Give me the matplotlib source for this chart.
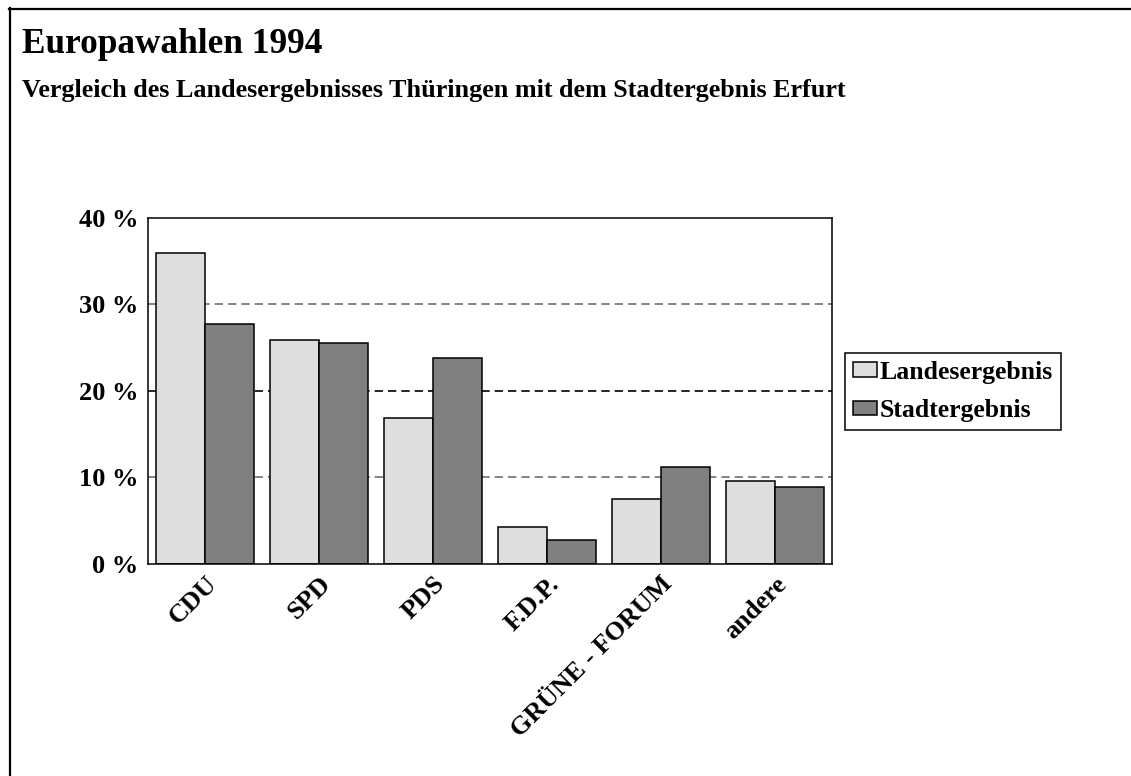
import numpy as np
import matplotlib
matplotlib.use("Agg")
import matplotlib.pyplot as plt
from matplotlib.lines import Line2D

# -----------------------------
# data
# -----------------------------
parteien = ["CDU", "SPD", "PDS", "F.D.P.", "GRÜNE - FORUM", "andere"]
landesergebnis = [35.9, 25.9, 16.9, 4.3, 7.5, 9.6]
stadtergebnis = [27.7, 25.6, 23.8, 2.8, 11.2, 8.9]
y_ticks = [0, 10, 20, 30, 40]
y_labels = ["0 %", "10 %", "20 %", "30 %", "40 %"]

plt.rcParams["font.family"] = ["Liberation Serif", "DejaVu Serif"]
plt.rcParams["font.weight"] = "bold"

W, H = 1131, 776
fig = plt.figure(figsize=(W / 100, H / 100), dpi=100)
fig.patch.set_facecolor("white")

# frame (only top and left)
fig.add_artist(Line2D([9 / W, 1], [1 - 9 / H, 1 - 9 / H], color="black", lw=1.6))
fig.add_artist(Line2D([10 / W, 10 / W], [0, 1 - 8 / H], color="black", lw=1.6))

# titles
fig.text(22 / W, 1 - 53 / H, "Europawahlen 1994", fontsize=25.4, fontweight="bold",
         ha="left", va="baseline")
fig.text(22 / W, 1 - 97 / H, "Vergleich des Landesergebnisses Thüringen mit dem Stadtergebnis Erfurt",
         fontsize=18.8, fontweight="bold", ha="left", va="baseline")

# -----------------------------
# axes
# -----------------------------
ax = fig.add_axes([148 / W, 1 - 564 / H, 684 / W, 346 / H])

x = np.arange(len(parteien))
w = 0.427

# gridlines
for val in [10, 20, 30]:
    col = "black" if val == 20 else "#707070"
    ax.axhline(val, color=col, lw=1.2, linestyle=(0, (5, 3)), zorder=1)

ax.bar(x - w / 2, landesergebnis, w, color="#dedede", edgecolor="black",
       linewidth=1.1, label="Landesergebnis", zorder=2)
ax.bar(x + w / 2, stadtergebnis, w, color="#808080", edgecolor="black",
       linewidth=1.1, label="Stadtergebnis", zorder=2)

ax.set_xlim(-0.5, len(parteien) - 0.5)
ax.set_ylim(0, 40)

ax.set_yticks(y_ticks)
ax.set_yticklabels(y_labels, fontsize=19, fontweight="bold")
ax.set_xticks(x)
ax.set_xticklabels(parteien, fontsize=19, fontweight="bold", rotation=45,
                   ha="right", rotation_mode="anchor")
ax.tick_params(axis="y", length=0, pad=7)
ax.tick_params(axis="x", length=0, pad=6)

for s in ax.spines.values():
    s.set_linewidth(1.1)
    s.set_color("black")

leg = ax.legend(loc="upper left", bbox_to_anchor=(845 / W, 1 - 353 / H),
                bbox_transform=fig.transFigure, fancybox=False, framealpha=1,
                edgecolor="black", prop={"size": 18.5, "weight": "bold"},
                handlelength=0.95, handleheight=0.5, handletextpad=0.1,
                borderpad=0.3, labelspacing=0.6, borderaxespad=0)
leg.get_frame().set_linewidth(1.1)

plt.savefig("out.png", dpi=100)
plt.close()
